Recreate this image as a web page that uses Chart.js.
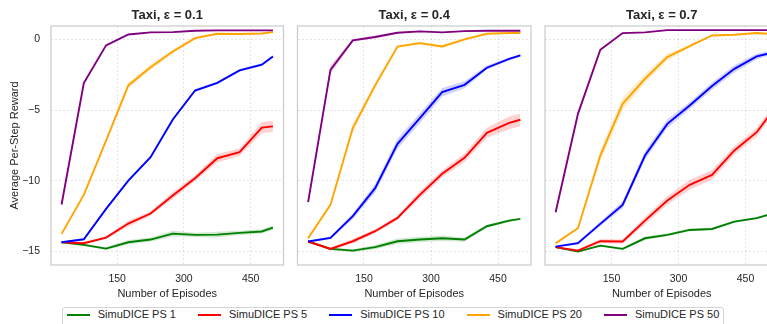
<!DOCTYPE html>
<html>
<head>
<meta charset="utf-8">
<script src="https://cdn.jsdelivr.net/npm/chart.js@4.4.0/dist/chart.umd.min.js"></script>
<style>
    body { margin: 0; width: 767px; height: 324px; overflow: hidden; background: #fff; position: relative;
           font-family: "Liberation Sans", Arial, sans-serif; }
    .panel { position: absolute; top: 0; }
    #legend { position: absolute; left: 62px; top: 307px; width: 662px; height: 20px; box-sizing: border-box;
              border: 1px solid #d4d4d4; border-radius: 3px; display: flex; align-items: flex-start;
              padding-left: 3.7px; font-size: 11px; color: #262626; }
    .item { display: flex; align-items: center; height: 13px; line-height: 13px; margin-right: 22px; white-space: nowrap; }
    .swatch { width: 23px; height: 2px; margin-right: 8px; }
</style>
</head>
<body>
<div class="panel" style="left:0px"><canvas id="c1" width="290" height="302"></canvas></div>
<div class="panel" style="left:290px"><canvas id="c2" width="250" height="302"></canvas></div>
<div class="panel" style="left:540px"><canvas id="c3" width="250" height="302"></canvas></div>
<div id="legend"></div>
<script>
// episodes at which each run was evaluated
const episodes = [25, 75, 125, 175, 225, 275, 325, 375, 425, 475, 500];
const xTicks = [150, 300, 450];
const yTicks = [-15, -10, -5, 0];
const seriesNames = ['SimuDICE PS 1', 'SimuDICE PS 5', 'SimuDICE PS 10', 'SimuDICE PS 20', 'SimuDICE PS 50'];
const panelTitles = ['Taxi, ε = 0.1', 'Taxi, ε = 0.4', 'Taxi, ε = 0.7'];

// epsilon = 0.1 : mean reward and spread
const eps01_ps1  = [-14.34, -14.53, -14.79, -14.34, -14.15, -13.73, -13.82, -13.80, -13.68, -13.58, -13.30];
const eps01_ps5  = [-14.34, -14.41, -14.01, -13.02, -12.31, -11.04, -9.81, -8.40, -7.97, -6.23, -6.15];
const eps01_ps10 = [-14.34, -14.13, -11.98, -9.98, -8.33, -5.66, -3.61, -3.07, -2.19, -1.79, -1.20];
const eps01_ps20 = [-13.75, -10.99, -7.15, -3.25, -1.96, -0.85, 0.09, 0.40, 0.38, 0.42, 0.52];
const eps01_ps50 = [-11.67, -3.09, -0.42, 0.35, 0.50, 0.52, 0.61, 0.64, 0.64, 0.64, 0.64];
const eps01_ps1_sd  = [0.05, 0.08, 0.10, 0.15, 0.15, 0.20, 0.15, 0.20, 0.15, 0.15, 0.15];
const eps01_ps5_sd  = [0.05, 0.08, 0.10, 0.20, 0.15, 0.25, 0.20, 0.30, 0.25, 0.40, 0.40];
const eps01_ps10_sd = [0.05, 0.05, 0.10, 0.10, 0.10, 0.10, 0.10, 0.10, 0.10, 0.10, 0.10];
const eps01_ps20_sd = [0.05, 0.10, 0.15, 0.20, 0.20, 0.15, 0.10, 0.05, 0.05, 0.05, 0.05];
const eps01_ps50_sd = [0.05, 0.10, 0.10, 0.05, 0.05, 0.03, 0.03, 0.03, 0.03, 0.03, 0.03];

// epsilon = 0.4
const eps04_ps1  = [-14.29, -14.81, -14.93, -14.69, -14.27, -14.15, -14.06, -14.15, -13.21, -12.81, -12.69];
const eps04_ps5  = [-14.29, -14.81, -14.27, -13.56, -12.62, -10.99, -9.50, -8.37, -6.60, -5.90, -5.68];
const eps04_ps10 = [-14.29, -14.03, -12.50, -10.52, -7.38, -5.57, -3.73, -3.21, -2.00, -1.37, -1.13];
const eps04_ps20 = [-14.06, -11.70, -6.27, -3.25, -0.50, -0.26, -0.50, 0.00, 0.40, 0.45, 0.45];
const eps04_ps50 = [-11.51, -2.15, -0.07, 0.17, 0.47, 0.57, 0.50, 0.59, 0.61, 0.61, 0.61];
const eps04_ps1_sd  = [0.05, 0.10, 0.10, 0.15, 0.20, 0.20, 0.20, 0.15, 0.10, 0.10, 0.05];
const eps04_ps5_sd  = [0.05, 0.10, 0.15, 0.15, 0.15, 0.25, 0.25, 0.30, 0.35, 0.45, 0.45];
const eps04_ps10_sd = [0.05, 0.10, 0.20, 0.30, 0.35, 0.35, 0.30, 0.25, 0.15, 0.10, 0.10];
const eps04_ps20_sd = [0.10, 0.10, 0.30, 0.20, 0.10, 0.10, 0.10, 0.10, 0.05, 0.05, 0.05];
const eps04_ps50_sd = [0.10, 0.30, 0.10, 0.10, 0.05, 0.05, 0.05, 0.03, 0.03, 0.03, 0.03];

// epsilon = 0.7
const eps07_ps1  = [-14.69, -15.00, -14.58, -14.81, -14.06, -13.82, -13.47, -13.40, -12.88, -12.64, -12.41];
const eps07_ps5  = [-14.69, -14.93, -14.27, -14.29, -12.81, -11.39, -10.28, -9.58, -7.85, -6.56, -5.50];
const eps07_ps10 = [-14.65, -14.41, -13.04, -11.70, -8.21, -5.97, -4.67, -3.30, -2.08, -1.20, -1.01];
const eps07_ps20 = [-14.41, -13.35, -8.21, -4.55, -2.78, -1.25, -0.47, 0.28, 0.33, 0.45, 0.40];
const eps07_ps50 = [-12.22, -5.26, -0.73, 0.45, 0.50, 0.66, 0.66, 0.66, 0.66, 0.66, 0.66];
const eps07_ps1_sd  = [0.05, 0.05, 0.08, 0.08, 0.12, 0.10, 0.10, 0.08, 0.08, 0.08, 0.08];
const eps07_ps5_sd  = [0.05, 0.10, 0.15, 0.15, 0.25, 0.30, 0.35, 0.35, 0.30, 0.30, 0.30];
const eps07_ps10_sd = [0.05, 0.10, 0.15, 0.25, 0.30, 0.30, 0.25, 0.25, 0.25, 0.20, 0.15];
const eps07_ps20_sd = [0.10, 0.10, 0.40, 0.45, 0.30, 0.25, 0.10, 0.05, 0.05, 0.05, 0.05];
const eps07_ps50_sd = [0.10, 0.20, 0.10, 0.05, 0.03, 0.03, 0.03, 0.03, 0.03, 0.03, 0.03];

const colors = ['#008000', '#ff0000', '#0000ff', '#ffa500', '#800080'];
const bands  = ['rgba(0,128,0,0.18)', 'rgba(255,0,0,0.18)', 'rgba(0,0,255,0.18)', 'rgba(255,165,0,0.2)', 'rgba(128,0,128,0.18)'];
const FONT = '"Liberation Sans", Arial, sans-serif';
const TEXT = '#262626';

const panels = [
    { id: 'c1', means: [eps01_ps1, eps01_ps5, eps01_ps10, eps01_ps20, eps01_ps50],
      sds: [eps01_ps1_sd, eps01_ps5_sd, eps01_ps10_sd, eps01_ps20_sd, eps01_ps50_sd], yWidth: 51, padRight: 6.5, first: true },
    { id: 'c2', means: [eps04_ps1, eps04_ps5, eps04_ps10, eps04_ps20, eps04_ps50],
      sds: [eps04_ps1_sd, eps04_ps5_sd, eps04_ps10_sd, eps04_ps20_sd, eps04_ps50_sd], yWidth: 7.5, padRight: 9 },
    { id: 'c3', means: [eps07_ps1, eps07_ps5, eps07_ps10, eps07_ps20, eps07_ps50],
      sds: [eps07_ps1_sd, eps07_ps5_sd, eps07_ps10_sd, eps07_ps20_sd, eps07_ps50_sd], yWidth: 5, padRight: 11.5 }
];

// grey frame around the plotting area (all four sides)
const frame = {
    id: 'frame',
    afterDatasetsDraw(chart) {
        const a = chart.chartArea, ctx = chart.ctx;
        ctx.save();
        ctx.strokeStyle = '#cccccc';
        ctx.lineWidth = 1.25;
        ctx.strokeRect(a.left, a.top, a.right - a.left, a.bottom - a.top);
        ctx.restore();
    }
};

function buildDatasets(p) {
    const out = [];
    p.means.forEach((m, i) => {
        const sd = p.sds[i];
        const base = (4 - i) * 3; // PS 50 ends up on top
        out.push({ data: episodes.map((x, k) => ({ x, y: m[k] + sd[k] })), borderWidth: 0, pointRadius: 0, fill: false, order: base + 2 });
        out.push({ data: episodes.map((x, k) => ({ x, y: m[k] - sd[k] })), borderWidth: 0, pointRadius: 0, fill: '-1', backgroundColor: bands[i], order: base + 1 });
        out.push({ label: seriesNames[i], data: episodes.map((x, k) => ({ x, y: m[k] })), borderColor: colors[i], borderWidth: 1.9, pointRadius: 0, fill: false, tension: 0, order: base });
    });
    return out;
}

panels.forEach((p, idx) => {
    new Chart(document.getElementById(p.id), {
        type: 'line',
        data: { datasets: buildDatasets(p) },
        options: {
            responsive: false,
            animation: false,
            layout: { padding: { left: 0, right: p.padRight, top: 0, bottom: 0 } },
            plugins: {
                legend: { display: false },
                tooltip: { enabled: false },
                title: { display: true, text: panelTitles[idx], fullSize: false, color: TEXT,
                         font: { family: FONT, size: 13, weight: 'bold' }, padding: { top: 7.4, bottom: 3 } }
            },
            scales: {
                x: {
                    type: 'linear', min: 1.25, max: 523.75,
                    afterBuildTicks: s => { s.ticks = xTicks.map(v => ({ value: v })); },
                    afterFit: s => { s.height = 37; },
                    ticks: { color: TEXT, font: { family: FONT, size: 10.5 }, padding: 8, maxRotation: 0 },
                    grid: { color: 'rgba(0,0,0,0.13)', lineWidth: 0.8, drawTicks: false },
                    border: { display: false, dash: [2, 2] },
                    title: { display: true, text: 'Number of Episodes', color: TEXT,
                             font: { family: FONT, size: 11 }, padding: { top: 0, bottom: 1.4 } }
                },
                y: {
                    type: 'linear', min: -15.95, max: 0.95,
                    afterBuildTicks: s => { s.ticks = yTicks.map(v => ({ value: v })); },
                    afterFit: s => { s.width = p.yWidth; },
                    ticks: { display: !!p.first, color: TEXT, font: { family: FONT, size: 10.5 }, padding: 11,
                             callback: v => String(v).replace('-', '\u2212') },
                    grid: { color: 'rgba(0,0,0,0.13)', lineWidth: 0.8, drawTicks: false },
                    border: { display: false, dash: [2, 2] },
                    title: { display: !!p.first, text: 'Average Per-Step Reward', color: TEXT,
                             font: { family: FONT, size: 11 }, padding: { top: 8.4, bottom: 0 } }
                }
            }
        },
        plugins: [frame]
    });
});

// shared legend under the panels
const legend = document.getElementById('legend');
seriesNames.forEach((name, i) => {
    const item = document.createElement('div');
    item.className = 'item';
    item.innerHTML = `<span class="swatch" style="background:${colors[i]}"></span><span>${name}</span>`;
    legend.appendChild(item);
});
</script>
</body>
</html>
